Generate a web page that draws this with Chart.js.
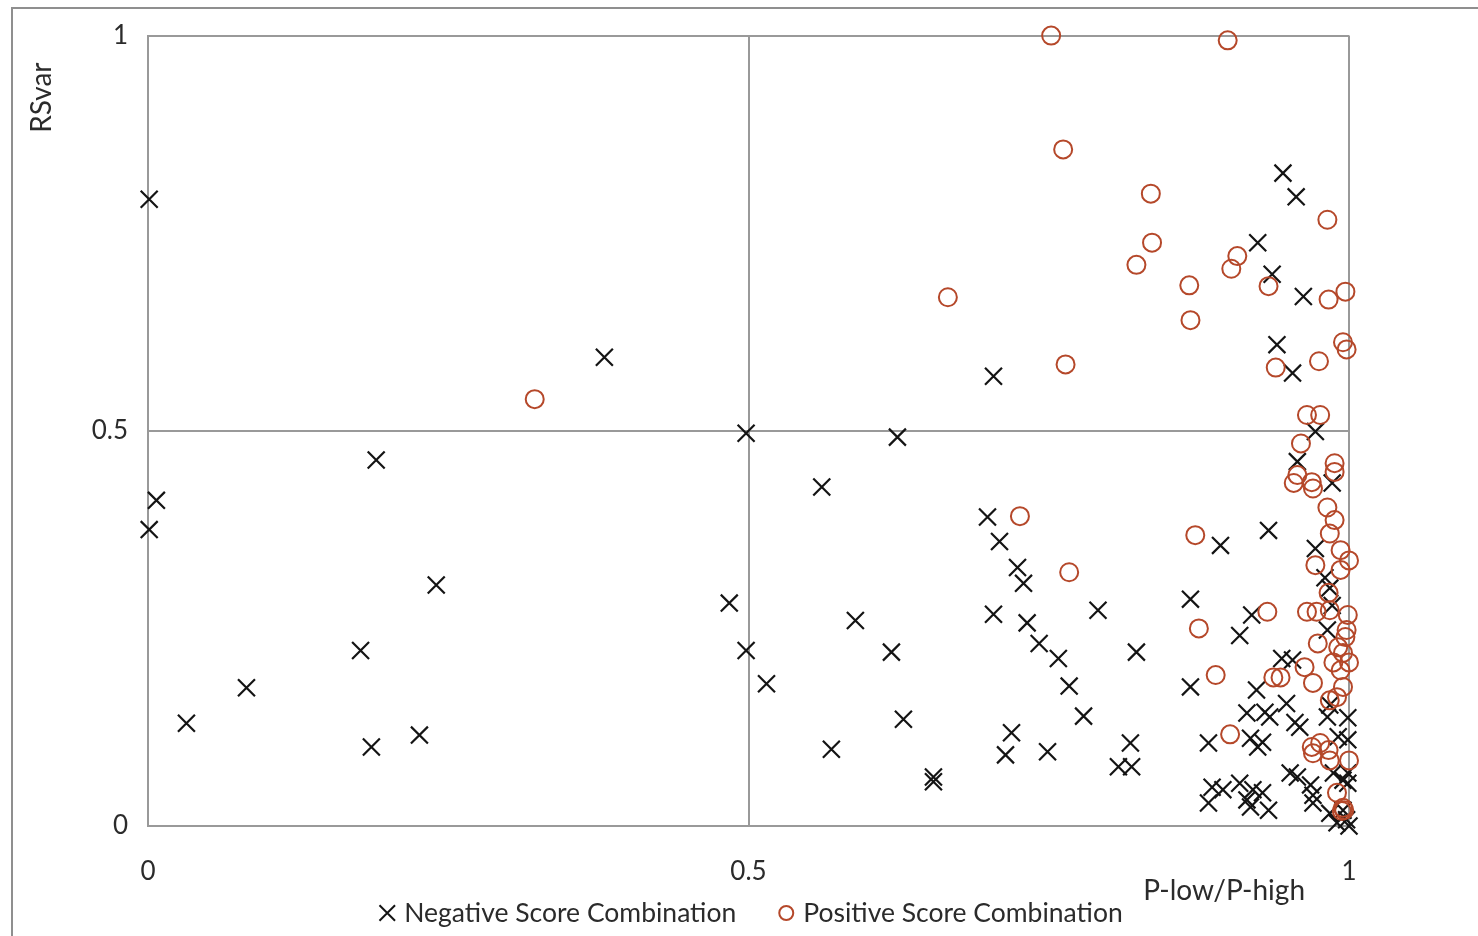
<!DOCTYPE html>
<html>
<head>
<meta charset="utf-8">
<script src="https://cdn.jsdelivr.net/npm/chart.js@4.4.0/dist/chart.umd.min.js"></script>
<style>
  html, body { margin: 0; padding: 0; background: #fff; }
  #wrap { position: relative; width: 1478px; height: 936px; overflow: hidden; }
</style>
</head>
<body>
<div id="wrap"><canvas id="rsvarChart"></canvas></div>
<script>
// axis ticks and titles
const xTicks = [0, 0.5, 1];
const yTicks = [0, 0.5, 1];
const xTitle = "P-low/P-high";
const yTitle = "RSvar";

// negative score combinations (x = P-low/P-high, y = RSvar)
const negX = [
  0.001, 0.007, 0.001, 0.032, 0.082, 0.177, 0.186, 0.190, 0.226, 0.240,
  0.380, 0.484, 0.498, 0.498, 0.515, 0.561, 0.569, 0.589, 0.619, 0.624,
  0.629, 0.654, 0.654, 0.699, 0.704, 0.704, 0.709, 0.714, 0.719, 0.724,
  0.729, 0.732, 0.742, 0.749, 0.758, 0.767, 0.779, 0.791, 0.808, 0.818,
  0.819, 0.823, 0.868, 0.868, 0.883, 0.893, 0.909, 0.919, 0.933, 0.945,
  0.956, 0.924, 0.936, 0.962, 0.940, 0.953, 0.972, 0.957, 0.986, 0.972,
  0.980, 0.984, 0.986, 0.982, 0.944, 0.953, 0.923, 0.915, 0.930, 0.934,
  0.948, 0.955, 0.959, 0.982, 0.999, 0.918, 0.924, 0.928, 0.991, 0.999,
  0.951, 0.957, 0.987, 0.995, 0.999, 0.968, 0.970, 0.886, 0.883, 0.895,
  0.909, 0.915, 0.920, 0.928, 0.933, 0.918, 0.970, 0.984, 0.995, 0.998,
  1.000, 0.990, 0.999, 0.984
];
const negY = [
  0.793, 0.412, 0.375, 0.130, 0.175, 0.222, 0.100, 0.463, 0.115, 0.305,
  0.593, 0.282, 0.497, 0.222, 0.180, 0.429, 0.097, 0.260, 0.220, 0.492,
  0.135, 0.062, 0.056, 0.391, 0.569, 0.268, 0.360, 0.090, 0.118, 0.327,
  0.307, 0.257, 0.231, 0.094, 0.212, 0.177, 0.139, 0.273, 0.075, 0.105,
  0.075, 0.220, 0.287, 0.176, 0.105, 0.355, 0.241, 0.267, 0.374, 0.826,
  0.796, 0.738, 0.698, 0.670, 0.609, 0.573, 0.499, 0.461, 0.434, 0.351,
  0.314, 0.301, 0.279, 0.248, 0.212, 0.210, 0.172, 0.143, 0.144, 0.138,
  0.155, 0.131, 0.125, 0.138, 0.137, 0.111, 0.100, 0.106, 0.113, 0.109,
  0.067, 0.062, 0.067, 0.058, 0.067, 0.052, 0.039, 0.049, 0.029, 0.046,
  0.054, 0.033, 0.046, 0.042, 0.020, 0.024, 0.029, 0.016, 0.020, 0.008,
  0.000, 0.004, 0.054, 0.153
];

// positive score combinations
const posX = [
  0.752, 0.899, 0.762, 0.835, 0.836, 0.823, 0.867, 0.868, 0.907, 0.902,
  0.933, 0.982, 0.983, 0.997, 0.939, 0.975, 0.995, 0.998, 0.666, 0.764,
  0.322, 0.726, 0.767, 0.872, 0.875, 0.889, 0.901, 0.932, 0.965, 0.976,
  0.960, 0.957, 0.954, 0.969, 0.970, 0.988, 0.988, 0.982, 0.988, 0.984,
  0.993, 1.000, 0.972, 0.993, 0.983, 0.965, 0.973, 0.984, 0.999, 0.998,
  0.997, 0.974, 0.991, 0.995, 0.987, 1.000, 0.963, 0.937, 0.943, 0.970,
  0.993, 0.995, 0.984, 0.990, 0.969, 0.970, 0.976, 0.983, 0.984, 1.000,
  0.990, 0.995, 0.996, 0.994
];
const posY = [
  1.000, 0.994, 0.856, 0.800, 0.738, 0.710, 0.684, 0.640, 0.721, 0.705,
  0.683, 0.767, 0.666, 0.676, 0.580, 0.588, 0.612, 0.603, 0.669, 0.584,
  0.540, 0.392, 0.321, 0.368, 0.250, 0.191, 0.116, 0.271, 0.520, 0.520,
  0.484, 0.444, 0.434, 0.435, 0.427, 0.459, 0.448, 0.403, 0.387, 0.370,
  0.349, 0.336, 0.330, 0.324, 0.295, 0.271, 0.271, 0.273, 0.267, 0.248,
  0.239, 0.231, 0.226, 0.219, 0.207, 0.207, 0.201, 0.188, 0.188, 0.181,
  0.197, 0.176, 0.159, 0.163, 0.100, 0.092, 0.105, 0.096, 0.083, 0.083,
  0.042, 0.023, 0.020, 0.019
];

const textColor = "#2b2b2b";
const gridColor = "#999999";
const negColor = "#141414";
const posColor = "#b5482a";
const fontFamily = "Lato, 'Open Sans', sans-serif";

// frame, axis titles and the legend row under the plot
const decorPlugin = {
  id: "decor",
  beforeDraw(chart) {
    const ctx = chart.ctx;
    ctx.save();
    ctx.fillStyle = "#fff";
    ctx.fillRect(0, 0, chart.width, chart.height);
    ctx.strokeStyle = "#8f8f8f";
    ctx.lineWidth = 2;
    ctx.strokeRect(12, 8, chart.width + 50, chart.height + 50);
    ctx.restore();
  },
  afterDraw(chart) {
    const { ctx, chartArea } = chart;
    ctx.save();
    ctx.fillStyle = textColor;
    ctx.font = "28px " + fontFamily;
    ctx.textBaseline = "middle";

    ctx.textAlign = "right";
    ctx.fillText(xTitle, chartArea.right - 44, chartArea.bottom + 65);

    ctx.save();
    ctx.translate(42, chartArea.top + 62);
    ctx.rotate(-Math.PI / 2);
    ctx.textAlign = "center";
    ctx.fillText(yTitle, 0, 0);
    ctx.restore();

    // legend
    ctx.font = "26.5px " + fontFamily;
    ctx.textAlign = "left";
    const sets = chart.data.datasets;
    const markerW = 22;
    const gap = 45;
    const widths = sets.map((d) => ctx.measureText(d.label).width);
    let total = 0;
    widths.forEach((w, i) => { total += markerW + w + (i ? gap : 0); });
    let x = (chartArea.left + chartArea.right) / 2 + 4 - total / 2;
    const y = chartArea.bottom + 87;
    sets.forEach((d, i) => {
      const isCircle = d.pointStyle === "circle";
      ctx.strokeStyle = d.pointBorderColor;
      ctx.fillStyle = isCircle ? "rgba(0,0,0,0)" : d.pointBorderColor;
      ctx.lineWidth = 2;
      Chart.helpers.drawPoint(ctx, {
        pointStyle: d.pointStyle,
        radius: isCircle ? 7 : 11,
        borderWidth: 2,
        rotation: 0
      }, x + 5, y);
      ctx.fillStyle = textColor;
      ctx.fillText(d.label, x + markerW, y);
      x += markerW + widths[i] + gap;
    });
    ctx.restore();
  }
};

const negPoints = negX.map((x, i) => ({ x: x, y: negY[i] }));
const posPoints = posX.map((x, i) => ({ x: x, y: posY[i] }));

const tickFont = { family: fontFamily, size: 26 };

const config = {
  type: "scatter",
  data: {
    datasets: [
      {
        label: "Negative Score Combination",
        data: negPoints,
        pointStyle: "crossRot",
        pointRadius: 12,
        pointHoverRadius: 12,
        pointBorderWidth: 2.2,
        pointBorderColor: negColor,
        pointBackgroundColor: negColor,
        borderColor: negColor,
        backgroundColor: negColor,
        clip: false,
        order: 1
      },
      {
        label: "Positive Score Combination",
        data: posPoints,
        pointStyle: "circle",
        pointRadius: 9,
        pointHoverRadius: 9,
        pointBorderWidth: 2,
        pointBorderColor: posColor,
        pointBackgroundColor: "rgba(0,0,0,0)",
        borderColor: posColor,
        backgroundColor: "rgba(0,0,0,0)",
        clip: false,
        order: 0
      }
    ]
  },
  options: {
    responsive: true,
    maintainAspectRatio: false,
    animation: false,
    events: [],
    layout: { padding: { top: 35, right: 129, bottom: 0, left: 0 } },
    plugins: {
      legend: { display: false },
      tooltip: { enabled: false }
    },
    scales: {
      x: {
        type: "linear",
        min: 0,
        max: 1,
        afterBuildTicks: (s) => { s.ticks = xTicks.map((v) => ({ value: v })); },
        afterFit: (s) => { s.height = 110; },
        ticks: { font: tickFont, color: textColor, padding: 30, callback: (v) => String(v) },
        grid: { color: gridColor, lineWidth: 2, drawTicks: false },
        border: { color: gridColor, width: 2 }
      },
      y: {
        type: "linear",
        min: 0,
        max: 1,
        afterBuildTicks: (s) => { s.ticks = yTicks.map((v) => ({ value: v })); },
        afterFit: (s) => { s.width = 148; },
        ticks: { font: tickFont, color: textColor, padding: 20, callback: (v) => String(v) },
        grid: { color: gridColor, lineWidth: 2, drawTicks: false },
        border: { color: gridColor, width: 2 }
      }
    }
  },
  plugins: [decorPlugin]
};

const rsvarChart = new Chart(document.getElementById("rsvarChart"), config);
</script>
</body>
</html>
